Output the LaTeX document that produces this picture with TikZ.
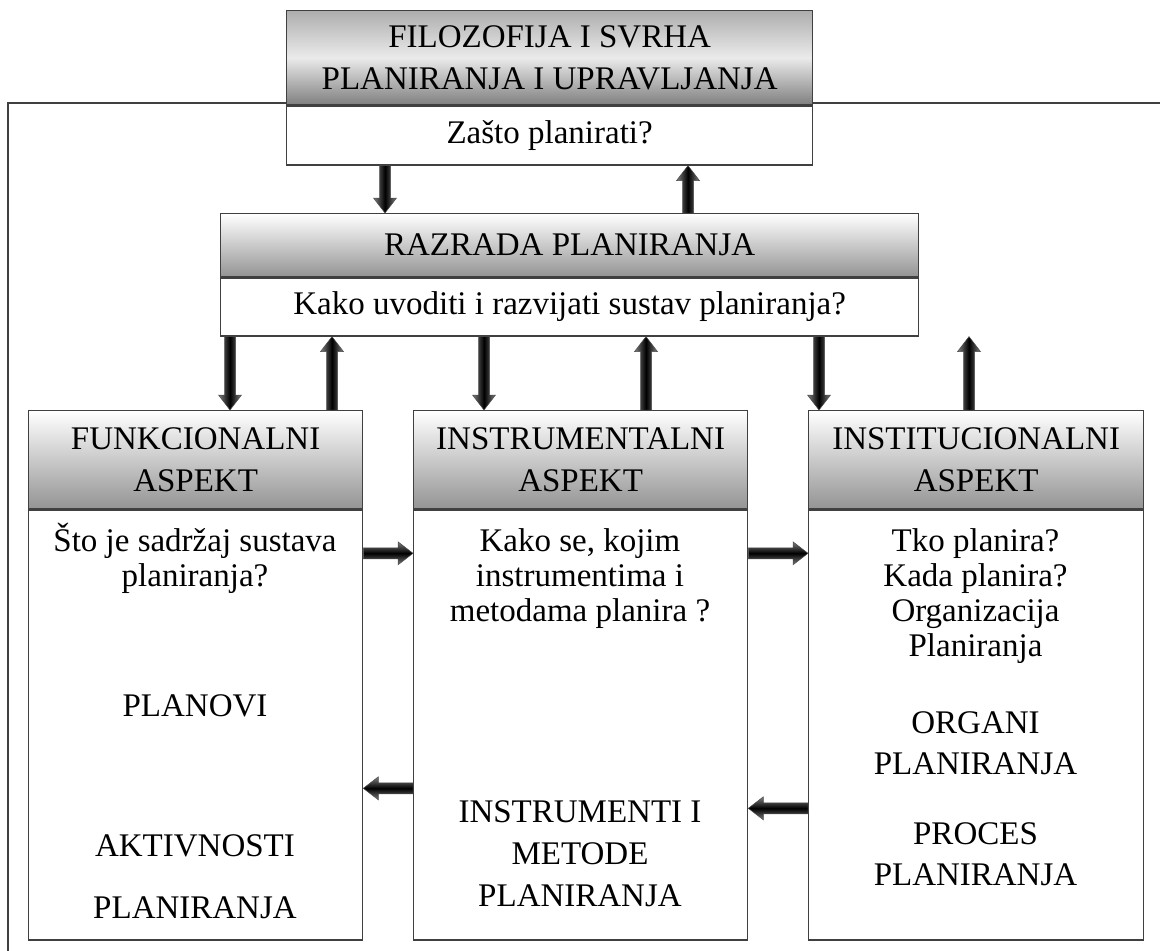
\documentclass[tikz,border=0pt]{standalone}
\usepackage{fontspec}
\setmainfont{Liberation Serif}
\usetikzlibrary{calc}

\tikzset{
  box/.style={draw=black!75, line width=1.3pt, anchor=north west, inner sep=0pt,
    align=center, font=\fontsize{33}{42}\selectfont},
  headbox/.style={box, top color=white, bottom color=black!42},
  tophead/.style={box, top color=black!32, bottom color=black!50, middle color=black!8},
  bodybox/.style={box, fill=white},
  txt/.style={anchor=base, align=center, inner sep=0pt, font=\fontsize{33}{35}\selectfont},
  capstxt/.style={txt, font=\fontsize{33}{41}\selectfont},
  frameline/.style={draw=black!75, line width=1.6pt},
  arrowbody/.style={draw=black!70, line width=0.5pt},
  vshade/.style={left color=black!50, right color=black!50, middle color=black},
  hshade/.style={top color=black!50, bottom color=black!50, middle color=black},
}

% block arrow from tail #2 to tip #3, shading given in #1
\newcommand\blockarrow[3][]{%
  \coordinate (hb) at ($(#3)!15pt!(#2)$);
  \path[arrowbody,#1]
    ($(#2)!5.5pt!90:(#3)$) -- ($(hb)!5.5pt!90:(#3)$) -- ($(hb)!11.5pt!90:(#3)$)
    -- (#3)
    -- ($(hb)!11.5pt!-90:(#3)$) -- ($(hb)!5.5pt!-90:(#3)$) -- ($(#2)!5.5pt!-90:(#3)$)
    -- cycle;
}

\begin{document}
\begin{tikzpicture}[x=1pt, y=-1pt]
\useasboundingbox (0,0) rectangle (1160,951);

% surrounding frame, open at the right and bottom
\draw[frameline] (8,951) -- (8,103) -- (1160,103);

% top level
\node[tophead, minimum width=526pt, minimum height=94pt] (tophead) at (286,10)
  {FILOZOFIJA I SVRHA\\PLANIRANJA I UPRAVLJANJA};
\node[bodybox, minimum width=526pt, minimum height=59pt] (topbody) at (tophead.south west)
  {Zašto planirati?};

% middle level
\node[headbox, minimum width=698pt, minimum height=63pt] (razhead) at (220,213)
  {RAZRADA PLANIRANJA};
\node[bodybox, minimum width=698pt, minimum height=58pt] (razbody) at (razhead.south west)
  {Kako uvoditi i razvijati sustav planiranja?};

% three aspects
\node[headbox, minimum width=334pt, minimum height=98pt] (lhead) at (28,410)
  {FUNKCIONALNI\\ASPEKT};
\node[bodybox, minimum width=334pt, minimum height=430pt] (lbody) at (lhead.south west) {};

\node[headbox, minimum width=334pt, minimum height=98pt] (mhead) at (413,410)
  {INSTRUMENTALNI\\ASPEKT};
\node[bodybox, minimum width=334pt, minimum height=430pt] (mbody) at (mhead.south west) {};

\node[headbox, minimum width=335pt, minimum height=98pt] (rhead) at (808,410)
  {INSTITUCIONALNI\\ASPEKT};
\node[bodybox, minimum width=335pt, minimum height=430pt] (rbody) at (rhead.south west) {};

% contents of the aspect boxes (anchored at the baseline of the last line)
\node[txt] (lq) at (195,586) {Što je sadržaj sustava\\planiranja?};
\node[capstxt] (lplan) at (195,716) {PLANOVI};
\node[capstxt, font=\fontsize{33}{62}\selectfont] (lakt) at (195,918) {AKTIVNOSTI\\PLANIRANJA};

\node[txt] (mq) at (580,621) {Kako se, kojim\\instrumentima i\\metodama planira ?};
\node[capstxt, font=\fontsize{33}{42}\selectfont] (mins) at (580,906) {INSTRUMENTI I\\METODE\\PLANIRANJA};

\node[txt] (rq) at (975.5,656) {Tko planira?\\Kada planira?\\Organizacija\\Planiranja};
\node[capstxt] (rorg) at (975.5,774) {ORGANI\\PLANIRANJA};
\node[capstxt] (rproc) at (975.5,885) {PROCES\\PLANIRANJA};

% vertical connectors
\coordinate (a1) at ($(topbody.south west)+(99,0)$);
\coordinate (a1e) at (a1 |- razhead.north);
\coordinate (a2) at ($(topbody.south west)+(402,0)$);
\coordinate (a2e) at (a2 |- razhead.north);
\blockarrow[vshade]{a1}{a1e}
\blockarrow[vshade]{a2e}{a2}

\coordinate (b1) at ($(razbody.south west)+(10,0)$);
\coordinate (b1e) at (b1 |- lhead.north);
\coordinate (b2) at ($(razbody.south west)+(112,0)$);
\coordinate (b2e) at (b2 |- lhead.north);
\coordinate (b3) at ($(razbody.south west)+(264,0)$);
\coordinate (b3e) at (b3 |- mhead.north);
\coordinate (b4) at ($(razbody.south west)+(426,0)$);
\coordinate (b4e) at (b4 |- mhead.north);
\coordinate (b5) at ($(razbody.south west)+(599,0)$);
\coordinate (b5e) at (b5 |- rhead.north);
\coordinate (b6) at ($(razbody.south west)+(749,0)$);
\coordinate (b6e) at (b6 |- rhead.north);
\blockarrow[vshade]{b1}{b1e}
\blockarrow[vshade]{b2e}{b2}
\blockarrow[vshade]{b3}{b3e}
\blockarrow[vshade]{b4e}{b4}
\blockarrow[vshade]{b5}{b5e}
\blockarrow[vshade]{b6e}{b6}

% horizontal connectors
\coordinate (c1) at ($(lbody.north east)+(0,44)$);
\coordinate (c1e) at (c1 -| mbody.west);
\coordinate (c2) at ($(mbody.north east)+(0,44)$);
\coordinate (c2e) at (c2 -| rbody.west);
\coordinate (c3) at ($(mbody.north west)+(0,279)$);
\coordinate (c3e) at (c3 -| lbody.east);
\coordinate (c4) at ($(rbody.north west)+(0,299)$);
\coordinate (c4e) at (c4 -| mbody.east);
\blockarrow[hshade]{c1}{c1e}
\blockarrow[hshade]{c2}{c2e}
\blockarrow[hshade]{c3}{c3e}
\blockarrow[hshade]{c4}{c4e}
\end{tikzpicture}
\end{document}
